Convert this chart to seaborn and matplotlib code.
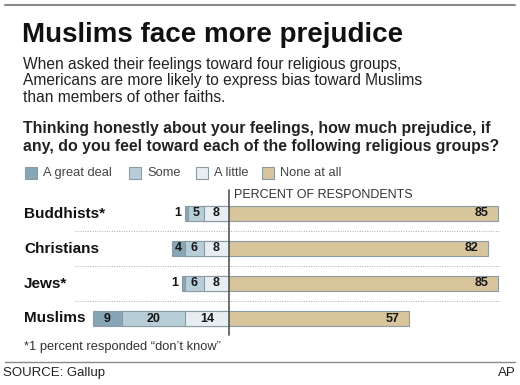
import pandas as pd
import seaborn as sns
import matplotlib.pyplot as plt

# Survey data (percent of respondents)
groups = ['Buddhists*', 'Christians', 'Jews*', 'Muslims']
great_deal = [1, 4, 1, 9]
some = [5, 6, 6, 20]
a_little = [8, 8, 8, 14]
none_at_all = [85, 82, 85, 57]

legend_labels = ['A great deal', 'Some', 'A little', 'None at all']
colors = ['#86a5b6', '#b7cdd8', '#e6eef2', '#d8c59c']
edge = '#8c9ba3'

df = pd.DataFrame({'group': groups, 'great': great_deal, 'some': some,
                   'little': a_little, 'none': none_at_all})
# cumulative extents to the left of the zero line
df['neg_great'] = -(df['great'] + df['some'] + df['little'])
df['neg_some'] = -(df['some'] + df['little'])
df['neg_little'] = -df['little']

W, H = 520, 385
sns.set_theme(style='white')
plt.rcParams['font.family'] = ['Liberation Sans', 'DejaVu Sans']
fig = plt.figure(figsize=(W / 100, H / 100), dpi=100)
ax = fig.add_axes([0, 0, 1, 1])

# pixel scale: 3.16 px per percent, zero at x=229
px = 3.16
x0 = 229
ax.set_xlim(-x0 / px, (W - x0) / px)

bar_h = 0.41
for col, c in [('neg_great', colors[0]), ('neg_some', colors[1]),
               ('neg_little', colors[2]), ('none', colors[3])]:
    sns.barplot(data=df, x=col, y='group', orient='h', color=c, width=bar_h,
                edgecolor=edge, linewidth=0.8, saturation=1, ax=ax)

# row spacing 35 px, first row centre at 213.5 px
row = 35
y_top = 213.5
ax.set_ylim(3 + (H - (y_top + 3 * row)) / row, -y_top / row)
ax.axis('off')

txt = '#161616'
# value labels
for i, r in df.iterrows():
    segs = [(r['neg_great'], r['neg_some'], r['great']),
            (r['neg_some'], r['neg_little'], r['some']),
            (r['neg_little'], 0, r['little'])]
    for a, b, v in segs:
        if v <= 1:
            ax.text(a - 1.2, i, f'{v}', ha='right', va='center', fontsize=9,
                    fontweight='bold', color=txt)
        else:
            ax.text((a + b) / 2, i, f'{v}', ha='center', va='center', fontsize=9,
                    fontweight='bold', color=txt)
    ax.text(r['none'] - 3, i, f"{r['none']}", ha='right', va='center', fontsize=9,
            fontweight='bold', color=txt)

# dotted separators
for y in [0.5, 1.5, 2.5]:
    ax.axhline(y, xmin=75 / W, xmax=500 / W, color='#aaaaaa', lw=0.7,
               ls=(0, (1, 1.5)))
# zero line
ax.plot([0, 0], [(190 - y_top) / row, 3 + (335 - y_top - 3 * row) / row],
        color='#555555', lw=1.2)


def ftext(x, y, s, **kw):
    fig.text(x / W, 1 - y / H, s, **kw)


# rules
fig.add_artist(plt.Line2D([5 / W, 515 / W], [1 - 5 / H, 1 - 5 / H], color='#8a8a8a', lw=1.5))
fig.add_artist(plt.Line2D([5 / W, 515 / W], [1 - 362 / H, 1 - 362 / H], color='#8a8a8a', lw=1))

ftext(22, 35, 'Muslims face more prejudice', fontsize=20, fontweight='bold',
      va='center', color='#111111')
sub = ['When asked their feelings toward four religious groups,',
       'Americans are more likely to express bias toward Muslims',
       'than members of other faiths.']
for k, s in enumerate(sub):
    ftext(23, 64 + 16.5 * k, s, fontsize=11.2, va='center', color='#222222')
ftext(23, 128, 'Thinking honestly about your feelings, how much prejudice, if',
      fontsize=11.4, fontweight='bold', va='center', color='#222222')
ftext(23, 146, 'any, do you feel toward each of the following religious groups?',
      fontsize=11.4, fontweight='bold', va='center', color='#222222')

# legend
leg_x = [25, 129, 196, 262]
for lx, lab, c in zip(leg_x, legend_labels, colors):
    fig.add_artist(plt.Rectangle((lx / W, 1 - 179 / H), 12 / W, 12 / H,
                                 facecolor=c, edgecolor=edge, lw=0.8))
    ftext(lx + 18, 173, lab, fontsize=9.3, va='center', color='#444444')

ftext(234, 195, 'PERCENT OF RESPONDENTS', fontsize=9, va='center', color='#333333')

for k, g in enumerate(groups):
    ftext(24, y_top + row * k, g, fontsize=11, fontweight='bold', va='center',
          color='#111111')

ftext(24, 347, '*1 percent responded \u201cdon\u2019t know\u201d', fontsize=9.3,
      va='center', color='#333333')
ftext(3, 373, 'SOURCE: Gallup', fontsize=9.5, va='center', color='#222222')
ftext(516, 373, 'AP', fontsize=9.5, va='center', ha='right', color='#222222')

fig.savefig('out.png', dpi=100)
